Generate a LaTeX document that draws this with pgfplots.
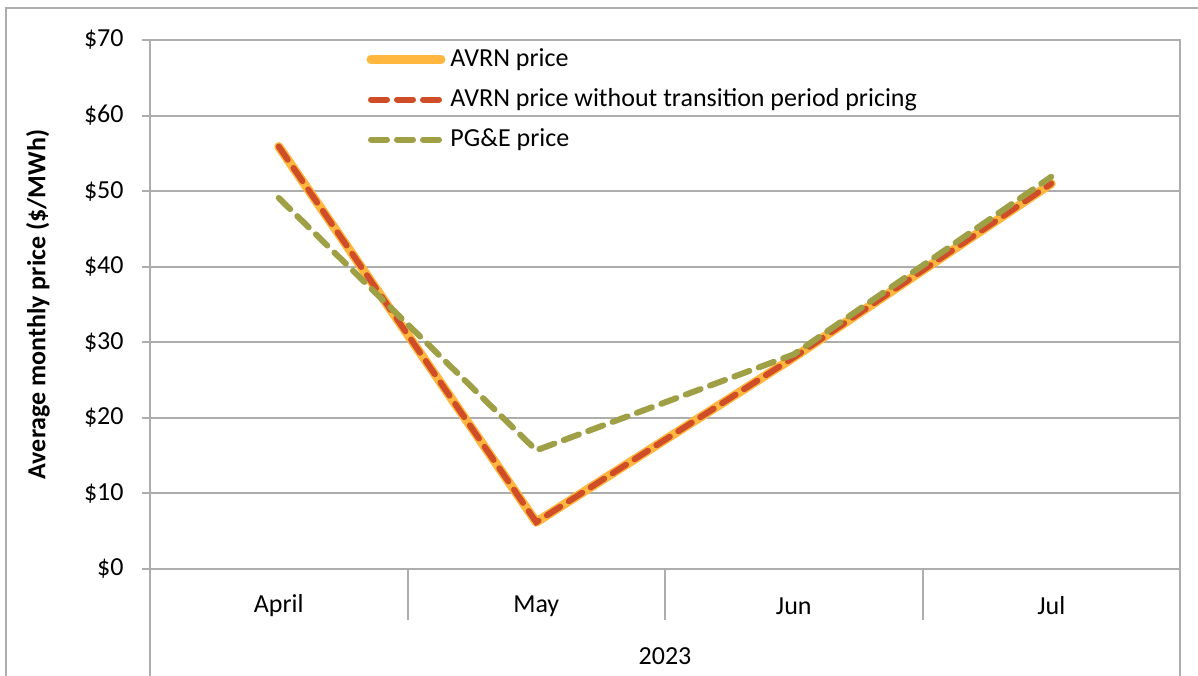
\documentclass[border=0pt]{standalone}
\usepackage{pgfplots}
\pgfplotsset{compat=1.18}
\usepackage{fontspec}
\setmainfont{Carlito}
\definecolor{gridgray}{HTML}{ADADAD}
\definecolor{avrn}{HTML}{FFB740}
\definecolor{avrnred}{HTML}{D04E27}
\definecolor{pge}{HTML}{9FA046}
\begin{document}
\fontsize{13bp}{15.6bp}\selectfont
\begin{tikzpicture}[x=1bp,y=1bp]
\useasboundingbox (-75,-53) rectangle (524,284.5);
\draw[gridgray, line width=1bp] (-72,-70) rectangle (540,280.5);
\begin{axis}[
  at={(0,0)}, anchor=south west,
  width=515bp, height=264.5bp, scale only axis,
  clip=false,
  xmin=-0.5, xmax=3.5, ymin=0, ymax=70,
  ytick={0,10,20,30,40,50,60,70},
  yticklabels={\$0,\$10,\$20,\$30,\$40,\$50,\$60,\$70},
  xtick={0,1,2,3},
  xticklabels={April,May,Jun,Jul},
  ymajorgrids,
  grid style={gridgray, line width=1bp},
  axis line style={gridgray, line width=1bp},
  tick style={gridgray, line width=1bp},
  major x tick style={draw=none},
  tick align=outside,
  major tick length=4bp,
  ytick pos=left, xtick pos=bottom,
  yticklabel style={anchor=east, inner sep=0pt, xshift=-9bp},
  xticklabel style={anchor=center, inner sep=0pt, yshift=-14.5bp},
  tick label style={font=\fontsize{13bp}{15.6bp}\selectfont},
  legend style={at={(axis description cs:0.204,0.995)}, anchor=north west,
    draw=none, fill=none, font=\fontsize{13bp}{15.6bp}\selectfont,
    nodes={inner sep=0pt, text height=9.5bp, text depth=3bp},
    row sep=7.5bp, column sep=2.5bp},
  legend cell align=left,
  legend image code/.code={\draw[#1] (0bp,0bp) -- (35bp,0bp);},
]
\addplot[avrn, line width=4.5bp, line cap=round, line join=round] coordinates {(0,55.9) (1,6.2) (2,28.0) (3,51.0)};
\addlegendentry{AVRN price}
\addplot[avrnred, line width=3bp, line cap=round, dash pattern=on 8bp off 5bp] coordinates {(0,55.9) (1,6.2) (2,28.0) (3,51.0)};
\addlegendentry{AVRN price without transition period pricing}
\addplot[pge, line width=3bp, line cap=round, dash pattern=on 8bp off 5bp] coordinates {(0,49.1) (1,15.7) (2,28.4) (3,51.9)};
\addlegendentry{PG\&E price}
\end{axis}
\draw[gridgray, line width=1bp] (128.75,0) -- (128.75,-25.5);
\draw[gridgray, line width=1bp] (257.5,0) -- (257.5,-25.5);
\draw[gridgray, line width=1bp] (386.25,0) -- (386.25,-25.5);
\draw[gridgray, line width=1bp] (0,0) -- (0,-60);
\draw[gridgray, line width=1bp] (515,0) -- (515,-60);
\node[rotate=90, font=\bfseries\fontsize{13bp}{15.6bp}\selectfont] at (-56,132.25) {Average monthly price (\$/MWh)};
\node at (257.5,-43.5) {2023};
\end{tikzpicture}
\end{document}
